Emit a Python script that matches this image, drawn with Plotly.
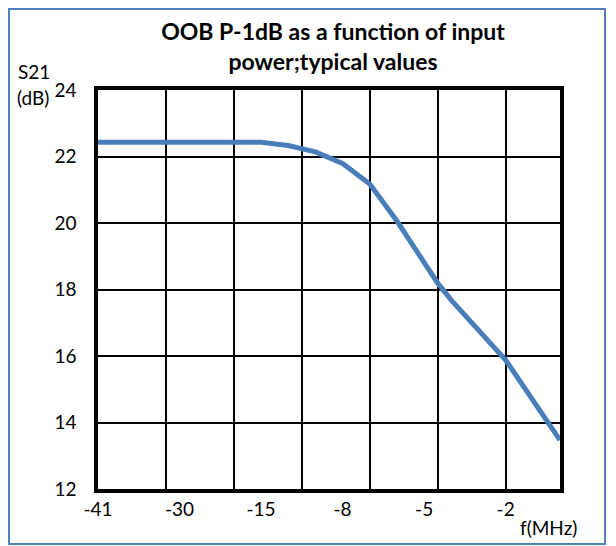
import plotly.graph_objects as go

# category positions on the x axis (35 categories, only labelled every 6th)
tick_pos = [0, 6, 12, 18, 24, 30]
tick_labels = ["-41", "-30", "-15", "-8", "-5", "-2"]

# S21 curve, read at the category positions where the line bends
curve_pos = [0, 12, 14, 16, 18, 20, 22, 25, 26, 30, 34]
s21_db = [22.43, 22.43, 22.33, 22.14, 21.79, 21.17, 20.06, 18.19, 17.68, 15.88, 13.47]

FONT = "Lato"
OFF = 8  # page body margin: the figure starts 8px in from the window corner
W, H = 616 - OFF, 546 - OFF
L, R, T, B = 90, 56, 82, 57
pw, ph = W - L - R, H - T - B


# window pixel -> paper fraction
def px(x):
    return (x - OFF - L) / pw


def py(y):
    return (H - B - (y - OFF)) / ph


fig = go.Figure()
fig.add_trace(go.Scatter(x=curve_pos, y=s21_db, mode="lines",
                         line=dict(color="#4A7EBB", width=5), showlegend=False))

fig.update_layout(
    width=W, height=H,
    margin=dict(l=L, r=R, t=T, b=B),
    paper_bgcolor="white", plot_bgcolor="white",
    font=dict(family=FONT, size=19, color="black"),
    title=dict(text="<b>OOB P-1dB as a function of input<br>power;typical values</b>",
               x=px(333), xanchor="center", xref="paper",
               y=1 - 32 / H, yanchor="middle", yref="container",
               font=dict(family=FONT, size=23, color="black")),
)

fig.update_xaxes(range=[0, 34], tickvals=tick_pos, ticktext=tick_labels,
                 showgrid=False, zeroline=False,
                 showline=True, linecolor="black", linewidth=3.5, mirror=True,
                 ticks="",
                 minor=dict(tick0=0, dtick=5, showgrid=True, gridcolor="black", gridwidth=1.5))
fig.update_yaxes(range=[12, 24], dtick=2, showgrid=True, gridcolor="black", gridwidth=1.5,
                 zeroline=False, showline=True, linecolor="black", linewidth=3.5, mirror=True,
                 ticks="outside", ticklen=14, tickcolor="rgba(0,0,0,0)")

fig.add_annotation(text="S21", x=px(16), y=py(72), xref="paper", yref="paper",
                   xanchor="left", yanchor="middle", showarrow=False, font=dict(size=19))
fig.add_annotation(text="(dB)", x=px(15), y=py(97), xref="paper", yref="paper",
                   xanchor="left", yanchor="middle", showarrow=False, font=dict(size=19))
fig.add_annotation(text="f(MHz)", x=px(548), y=py(527), xref="paper", yref="paper",
                   xanchor="center", yanchor="middle", showarrow=False, font=dict(size=19))

# outer chart frame
fig.add_shape(type="rect", xref="paper", yref="paper",
              x0=px(OFF + 1), x1=px(605), y0=py(544), y1=py(OFF + 1),
              line=dict(color="#4F81BD", width=2), layer="above")

fig.write_html("out.html")
